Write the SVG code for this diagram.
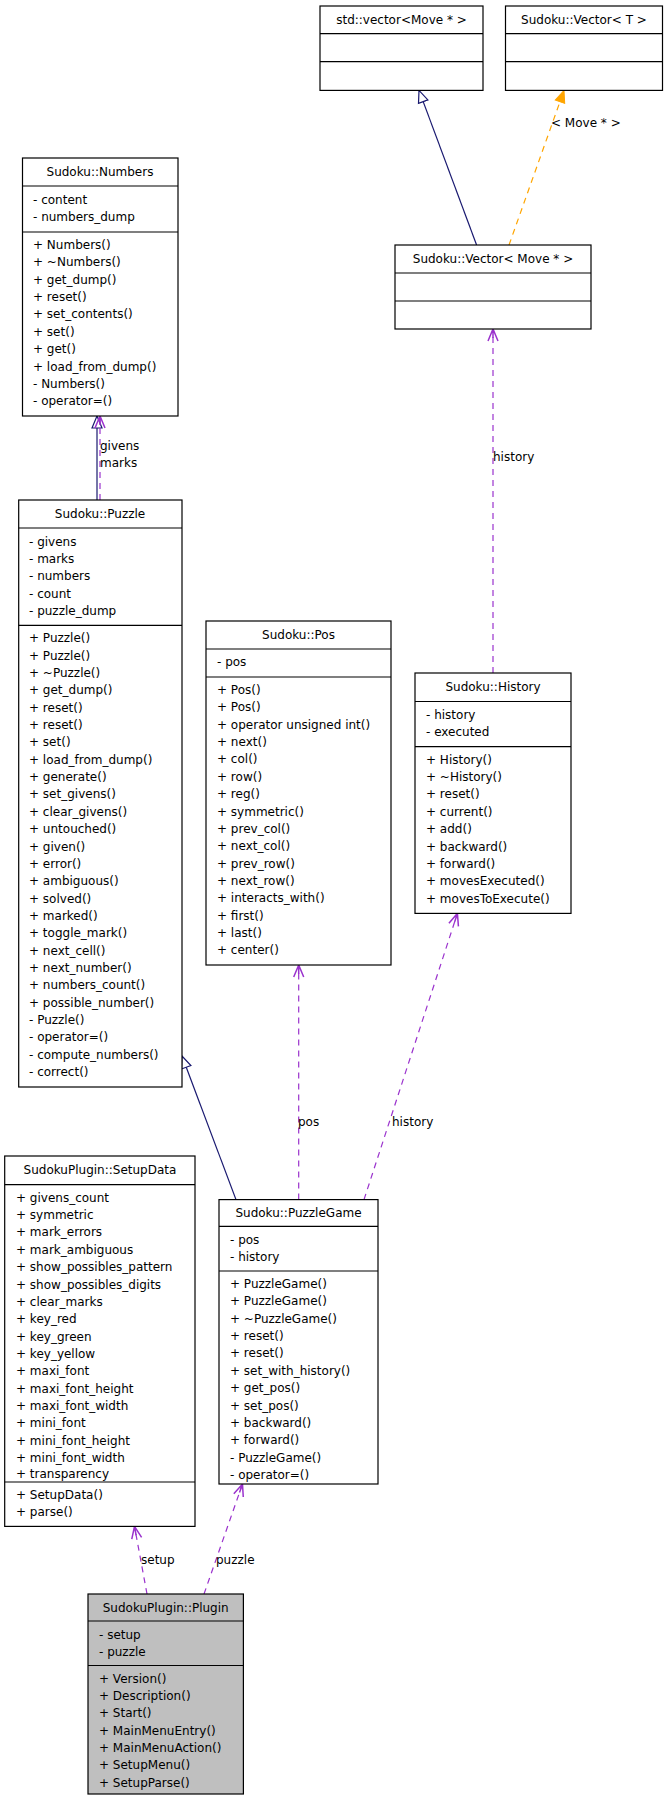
<svg xmlns="http://www.w3.org/2000/svg" width="664" height="1816" viewBox="0 0 664 1816">
<style>
text{font-family:"DejaVu Sans",sans-serif;font-size:12px;fill:#000}
.t{text-anchor:middle}
.b{fill:#fff;stroke:#000;stroke-width:1.2}
.g{fill:#bfbfbf;stroke:#000;stroke-width:1.2}
.d{stroke:#000;stroke-width:1.2}
.inh{fill:none;stroke:#191970;stroke-width:1.2;marker-end:url(#tri)}
.use{fill:none;stroke:#9a32cd;stroke-width:1.2;stroke-dasharray:6,5;marker-end:url(#open)}
.tpl{fill:none;stroke:#ffa500;stroke-width:1.2;stroke-dasharray:6,5;marker-end:url(#fill)}
</style>
<defs>
<marker id="tri" markerUnits="userSpaceOnUse" markerWidth="14" markerHeight="14" refX="13" refY="7" orient="auto"><path d="M1,2 L13,7 L1,12 Z" fill="#fff" stroke="#191970" stroke-width="1.2"/></marker>
<marker id="open" markerUnits="userSpaceOnUse" markerWidth="14" markerHeight="14" refX="13" refY="7" orient="auto"><path d="M1,2 L13,7 L1,12 M13,7 L4,7" fill="none" stroke="#9a32cd" stroke-width="1.5"/></marker>
<marker id="fill" markerUnits="userSpaceOnUse" markerWidth="14" markerHeight="14" refX="13" refY="7" orient="auto"><path d="M1,2 L13,7 L1,12 Z" fill="#ffa500" stroke="#ffa500"/></marker>
</defs>
<g id="edges">
<path class="inh" d="M476.6,245 L419,90.4"/>
<path class="tpl" d="M509,245 L564,90.4"/>
<text x="551" y="127">&lt; Move * &gt;</text>
<path class="use" d="M493,673 L493,329"/>
<text x="493" y="461">history</text>
<path class="inh" d="M97,500 L97,416"/>
<path class="use" d="M100,500 L100,416"/>
<text x="100" y="450">givens</text>
<text x="100" y="467">marks</text>
<path class="inh" d="M236,1199.6 L182,1056"/>
<path class="use" d="M298.7,1199.6 L298.7,965"/>
<text x="298" y="1126">pos</text>
<path class="use" d="M364,1199.6 L457.4,913.4"/>
<text x="392" y="1126">history</text>
<path class="use" d="M147,1594 L134.5,1526.4"/>
<text x="141" y="1564">setup</text>
<path class="use" d="M204,1594 L242.5,1484"/>
<text x="216" y="1564">puzzle</text>
</g>
<g id="std_vector">
<rect class="b" x="320" y="6" width="163" height="84.4"/>
<line class="d" x1="320" y1="33.7" x2="483" y2="33.7"/><line class="d" x1="320" y1="61.7" x2="483" y2="61.7"/>
<text class="t" x="401.5" y="24">std::vector&lt;Move * &gt;</text>
</g>
<g id="vector_t">
<rect class="b" x="505.5" y="6" width="157" height="84.4"/>
<line class="d" x1="505.5" y1="33.7" x2="662.5" y2="33.7"/><line class="d" x1="505.5" y1="61.7" x2="662.5" y2="61.7"/>
<text class="t" x="584" y="24">Sudoku::Vector&lt; T &gt;</text>
</g>
<g id="vector_move">
<rect class="b" x="395" y="245" width="196" height="84"/>
<line class="d" x1="395" y1="273" x2="591" y2="273"/><line class="d" x1="395" y1="301" x2="591" y2="301"/>
<text class="t" x="493" y="263">Sudoku::Vector&lt; Move * &gt;</text>
</g>
<g id="numbers">
<rect class="b" x="22.5" y="158" width="155.5" height="258"/>
<line class="d" x1="22.5" y1="186" x2="178" y2="186"/><line class="d" x1="22.5" y1="232" x2="178" y2="232"/>
<text class="t" x="100" y="176">Sudoku::Numbers</text>
<text x="33" y="203.5">- content</text><text x="33" y="221">- numbers_dump</text>
<text x="33" y="249">+ Numbers()</text><text x="33" y="266.4">+ ~Numbers()</text><text x="33" y="283.7">+ get_dump()</text><text x="33" y="301">+ reset()</text><text x="33" y="318.4">+ set_contents()</text><text x="33" y="335.8">+ set()</text><text x="33" y="353">+ get()</text><text x="33" y="370.5">+ load_from_dump()</text><text x="33" y="388">- Numbers()</text><text x="33" y="405.3">- operator=()</text>
</g>
<g id="puzzle">
<rect class="b" x="18.7" y="500" width="163.3" height="587"/>
<line class="d" x1="18.7" y1="528" x2="182" y2="528"/><line class="d" x1="18.7" y1="625.3" x2="182" y2="625.3"/>
<text class="t" x="100" y="518">Sudoku::Puzzle</text>
<text x="29" y="545.5">- givens</text><text x="29" y="562.9">- marks</text><text x="29" y="580.2">- numbers</text><text x="29" y="597.6">- count</text><text x="29" y="615">- puzzle_dump</text>
<text x="29" y="642.3">+ Puzzle()</text><text x="29" y="659.6">+ Puzzle()</text><text x="29" y="677">+ ~Puzzle()</text><text x="29" y="694.3">+ get_dump()</text><text x="29" y="711.7">+ reset()</text><text x="29" y="729">+ reset()</text><text x="29" y="746.4">+ set()</text><text x="29" y="763.7">+ load_from_dump()</text><text x="29" y="781">+ generate()</text><text x="29" y="798.4">+ set_givens()</text><text x="29" y="815.8">+ clear_givens()</text><text x="29" y="833.1">+ untouched()</text><text x="29" y="850.5">+ given()</text><text x="29" y="867.8">+ error()</text><text x="29" y="885.2">+ ambiguous()</text><text x="29" y="902.5">+ solved()</text><text x="29" y="919.9">+ marked()</text><text x="29" y="937.2">+ toggle_mark()</text><text x="29" y="954.6">+ next_cell()</text><text x="29" y="972">+ next_number()</text><text x="29" y="989.3">+ numbers_count()</text><text x="29" y="1006.7">+ possible_number()</text><text x="29" y="1024">- Puzzle()</text><text x="29" y="1041.4">- operator=()</text><text x="29" y="1058.7">- compute_numbers()</text><text x="29" y="1076">- correct()</text>
</g>
<g id="pos">
<rect class="b" x="206" y="621" width="185" height="344"/>
<line class="d" x1="206" y1="649" x2="391" y2="649"/><line class="d" x1="206" y1="677" x2="391" y2="677"/>
<text class="t" x="298.5" y="639">Sudoku::Pos</text>
<text x="217" y="666">- pos</text>
<text x="217" y="694">+ Pos()</text><text x="217" y="711.4">+ Pos()</text><text x="217" y="728.7">+ operator unsigned int()</text><text x="217" y="746">+ next()</text><text x="217" y="763.4">+ col()</text><text x="217" y="780.8">+ row()</text><text x="217" y="798.1">+ reg()</text><text x="217" y="815.5">+ symmetric()</text><text x="217" y="832.8">+ prev_col()</text><text x="217" y="850.2">+ next_col()</text><text x="217" y="867.5">+ prev_row()</text><text x="217" y="884.9">+ next_row()</text><text x="217" y="902.2">+ interacts_with()</text><text x="217" y="919.6">+ first()</text><text x="217" y="937">+ last()</text><text x="217" y="954.3">+ center()</text>
</g>
<g id="history">
<rect class="b" x="415" y="673" width="156" height="240.4"/>
<line class="d" x1="415" y1="701.5" x2="571" y2="701.5"/><line class="d" x1="415" y1="746.7" x2="571" y2="746.7"/>
<text class="t" x="493" y="691">Sudoku::History</text>
<text x="426" y="718.5">- history</text><text x="426" y="735.8">- executed</text>
<text x="426" y="763.7">+ History()</text><text x="426" y="781">+ ~History()</text><text x="426" y="798.4">+ reset()</text><text x="426" y="815.8">+ current()</text><text x="426" y="833.1">+ add()</text><text x="426" y="850.5">+ backward()</text><text x="426" y="867.8">+ forward()</text><text x="426" y="885.2">+ movesExecuted()</text><text x="426" y="902.5">+ movesToExecute()</text>
</g>
<g id="setupdata">
<rect class="b" x="4.7" y="1156" width="190.3" height="370.4"/>
<line class="d" x1="4.7" y1="1184.7" x2="195" y2="1184.7"/><line class="d" x1="4.7" y1="1482" x2="195" y2="1482"/>
<text class="t" x="100" y="1174">SudokuPlugin::SetupData</text>
<text x="16" y="1201.7">+ givens_count</text><text x="16" y="1219">+ symmetric</text><text x="16" y="1236.4">+ mark_errors</text><text x="16" y="1253.8">+ mark_ambiguous</text><text x="16" y="1271.1">+ show_possibles_pattern</text><text x="16" y="1288.5">+ show_possibles_digits</text><text x="16" y="1305.8">+ clear_marks</text><text x="16" y="1323.2">+ key_red</text><text x="16" y="1340.5">+ key_green</text><text x="16" y="1357.9">+ key_yellow</text><text x="16" y="1375.2">+ maxi_font</text><text x="16" y="1392.6">+ maxi_font_height</text><text x="16" y="1410">+ maxi_font_width</text><text x="16" y="1427.3">+ mini_font</text><text x="16" y="1444.7">+ mini_font_height</text><text x="16" y="1462">+ mini_font_width</text><text x="16" y="1477.5">+ transparency</text>
<text x="16" y="1499">+ SetupData()</text><text x="16" y="1516.3">+ parse()</text>
</g>
<g id="puzzlegame">
<rect class="b" x="219" y="1199.6" width="159" height="284.4"/>
<line class="d" x1="219" y1="1226.4" x2="378" y2="1226.4"/><line class="d" x1="219" y1="1271" x2="378" y2="1271"/>
<text class="t" x="298.5" y="1217">Sudoku::PuzzleGame</text>
<text x="230" y="1243.5">- pos</text><text x="230" y="1260.8">- history</text>
<text x="230" y="1288">+ PuzzleGame()</text><text x="230" y="1305.4">+ PuzzleGame()</text><text x="230" y="1322.7">+ ~PuzzleGame()</text><text x="230" y="1340">+ reset()</text><text x="230" y="1357.4">+ reset()</text><text x="230" y="1374.8">+ set_with_history()</text><text x="230" y="1392.1">+ get_pos()</text><text x="230" y="1409.5">+ set_pos()</text><text x="230" y="1426.8">+ backward()</text><text x="230" y="1444.2">+ forward()</text><text x="230" y="1461.5">- PuzzleGame()</text><text x="230" y="1478.9">- operator=()</text>
</g>
<g id="plugin">
<rect class="g" x="88" y="1594" width="155.4" height="200"/>
<line class="d" x1="88" y1="1621" x2="243.4" y2="1621"/><line class="d" x1="88" y1="1665.5" x2="243.4" y2="1665.5"/>
<text class="t" x="165.7" y="1611.5">SudokuPlugin::Plugin</text>
<text x="99" y="1638.5">- setup</text><text x="99" y="1655.8">- puzzle</text>
<text x="99" y="1682.5">+ Version()</text><text x="99" y="1699.9">+ Description()</text><text x="99" y="1717.2">+ Start()</text><text x="99" y="1734.6">+ MainMenuEntry()</text><text x="99" y="1751.9">+ MainMenuAction()</text><text x="99" y="1769.3">+ SetupMenu()</text><text x="99" y="1786.6">+ SetupParse()</text>
</g>
</svg>
